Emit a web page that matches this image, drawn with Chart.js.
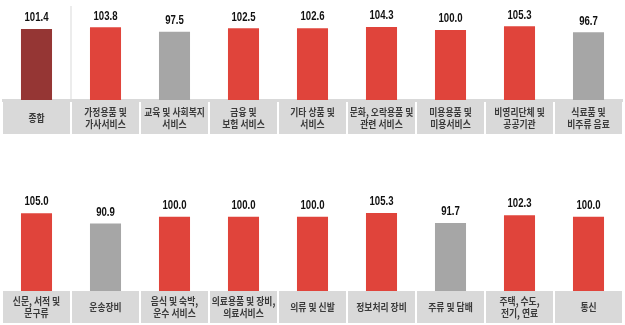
<!DOCTYPE html>
<html><head><meta charset="utf-8">
<script src="https://cdn.jsdelivr.net/npm/chart.js@4.4.0/dist/chart.umd.min.js"></script>
<style>
html,body{margin:0;padding:0;background:#fff;}
#w1{position:absolute;left:0;top:0;width:625px;height:160px;}
#w2{position:absolute;left:0;top:160px;width:625px;height:165px;}
</style></head><body>
<div id="w1"><canvas id="c1"></canvas></div>
<div id="w2"><canvas id="c2"></canvas></div>
<script>
const topCategories = [["종합"],["가정용품 및","가사서비스"],["교육 및 사회복지","서비스"],["금융 및","보험 서비스"],["기타 상품 및","서비스"],["문화, 오락용품 및","관련 서비스"],["미용용품 및","미용서비스"],["비영리단체 및","공공기관"],["식료품 및","비주류 음료"]];
const topValues = [101.4,103.8,97.5,102.5,102.6,104.3,100.0,105.3,96.7];
const bottomCategories = [["신문, 서적 및","문구류"],["운송장비"],["음식 및 숙박,","운수 서비스"],["의료용품 및 장비,","의료서비스"],["의류 및 신발"],["정보처리 장비"],["주류 및 담배"],["주택, 수도,","전기, 연료"],["통신"]];
const bottomValues = [105.0,90.9,100.0,100.0,100.0,105.3,91.7,102.3,100.0];

const RED='#E0443B', DARK='#953634', GREY='#A6A6A6', CELL='#D9D9D9';
function colorsFor(vals, firstDark){
  return vals.map((v,i)=> (firstDark && i===0) ? DARK : (v>=100 ? RED : GREY));
}
const numFont = '"Liberation Sans", Arial, sans-serif';
const korFont = '"Noto Sans CJK KR", sans-serif';

function drawScaled(ctx, text, x, y, sx){
  ctx.save();
  ctx.translate(x, y);
  ctx.scale(sx, 1);
  ctx.fillText(text, 0, 0);
  ctx.restore();
}

function makePlugin(cats, opts){
  return {
    id:'cells',
    beforeDatasetsDraw(chart){
      const ctx=chart.ctx, x=chart.scales.x, a=chart.chartArea;
      ctx.save();
      const step = (a.right-a.left)/cats.length;
      if(opts.axisLine){
        ctx.fillStyle=CELL;
        ctx.fillRect(a.left, a.bottom-1, a.right-a.left, 3);
      }
      if(opts.sep){
        ctx.fillStyle='#D9D9D9';
        const sx = x.getPixelForValue(0)+step/2;
        ctx.fillRect(Math.round(sx)-0.5, opts.sepTop, 1, a.bottom-opts.sepTop);
      }
      ctx.restore();
    },
    afterDatasetsDraw(chart){
      const ctx=chart.ctx, x=chart.scales.x, a=chart.chartArea, y=chart.scales.y;
      const ds=chart.data.datasets[0].data;
      ctx.save();
      const step = (a.right-a.left)/cats.length;
      ctx.fillStyle='#111';
      ctx.font='bold 12px '+numFont;
      ctx.textAlign='center'; ctx.textBaseline='middle';
      ds.forEach((v,i)=>{
        drawScaled(ctx, v.toFixed(1), x.getPixelForValue(i), y.getPixelForValue(v)-11, 0.8);
      });
      cats.forEach((lines,i)=>{
        const cx=x.getPixelForValue(i);
        const l=cx-step/2+1, r=cx+step/2-1;
        ctx.fillStyle=CELL;
        ctx.fillRect(l, opts.cellTop, r-l, opts.cellBottom-opts.cellTop);
        ctx.fillStyle='#3a3a3a';
        ctx.font='bold 10px '+korFont;
        const mid=(opts.cellTop+opts.cellBottom)/2;
        const lh=11.5;
        lines.forEach((t,k)=>{
          drawScaled(ctx, t, cx, mid+(k-(lines.length-1)/2)*lh, 0.88);
        });
      });
      ctx.restore();
    }
  };
}

function build(id, cats, vals, firstDark, ymax, pad, opts){
  return new Chart(document.getElementById(id), {
    type:'bar',
    data:{labels:cats.map(c=>c.join(' ')), datasets:[{data:vals, backgroundColor:colorsFor(vals, firstDark), borderWidth:0, categoryPercentage:1, barPercentage:0.45}]},
    options:{
      responsive:true, maintainAspectRatio:false, animation:false,
      layout:{padding:pad},
      plugins:{legend:{display:false}, tooltip:{enabled:false}},
      scales:{
        x:{display:false, grid:{display:false}},
        y:{display:false, min:0, max:ymax, grid:{display:false}}
      }
    },
    plugins:[makePlugin(cats, opts)]
  });
}

build('c1', topCategories, topValues, true, 130, {top:9,bottom:60,left:2,right:2},
  {axisLine:true, sep:true, sepTop:6, cellTop:102, cellBottom:134});
build('c2', bottomCategories, bottomValues, false, 120, {top:42,bottom:34,left:2,right:2},
  {axisLine:false, sep:false, cellTop:131, cellBottom:163});
</script>
</body></html>
